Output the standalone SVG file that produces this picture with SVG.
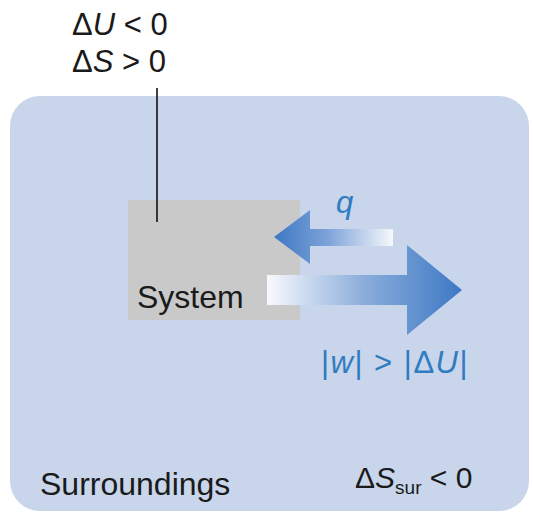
<svg xmlns="http://www.w3.org/2000/svg" width="533" height="513" viewBox="0 0 533 513">
<style>
.t{font-family:"Liberation Sans",Arial,sans-serif;fill:#1a1a1a}
.b{font-family:"Liberation Sans",Arial,sans-serif;fill:#2f7cc0}
.i{font-style:italic}
</style>
<defs>
<linearGradient id="gq" x1="274" y1="0" x2="393" y2="0" gradientUnits="userSpaceOnUse">
<stop offset="0" stop-color="#3d78c4"/><stop offset="0.45" stop-color="#7da2d8"/><stop offset="1" stop-color="#f6f8fc"/>
</linearGradient>
<linearGradient id="gw" x1="267" y1="0" x2="462" y2="0" gradientUnits="userSpaceOnUse">
<stop offset="0" stop-color="#f8f9fd"/><stop offset="0.5" stop-color="#8aaddb"/><stop offset="1" stop-color="#3d78c4"/>
</linearGradient>
</defs>
<rect width="533" height="513" fill="#ffffff"/>
<g id="surroundings">
<rect x="10" y="96" width="519" height="415" rx="30" fill="#c8d5eb"/>
<text class="t" x="40" y="495" font-size="32">Surroundings</text>
<text class="t" x="355" y="488" font-size="30">Δ<tspan class="i">S</tspan><tspan font-size="19" dy="6">sur</tspan><tspan dy="-6"> &lt; 0</tspan></text>
</g>
<g id="system">
<rect x="128" y="200" width="172" height="120" fill="#c9c9c9"/>
<text class="t" x="137" y="308" font-size="32">System</text>
</g>
<g id="labels">
<text class="t" x="72" y="35" font-size="31">Δ<tspan class="i">U</tspan> &lt; 0</text>
<text class="t" x="72" y="72" font-size="31">Δ<tspan class="i">S</tspan> &gt; 0</text>
</g>
<g id="connectors">
<line x1="157" y1="88" x2="157" y2="222" stroke="#111" stroke-width="1.6"/>
<polygon id="q-arrow" points="274,237 310,210 310,229 393,229 393,246 310,246 310,264" fill="url(#gq)"/>
<polygon id="w-arrow" points="267,275 407,275 407,245 462,290 407,335 407,305 267,305" fill="url(#gw)"/>
<text class="b i" x="336" y="213" font-size="31">q</text>
<text class="b" x="321" y="373" font-size="31" letter-spacing="1.5">|<tspan class="i">w</tspan>| &gt; |Δ<tspan class="i">U</tspan>|</text>
</g>
</svg>
